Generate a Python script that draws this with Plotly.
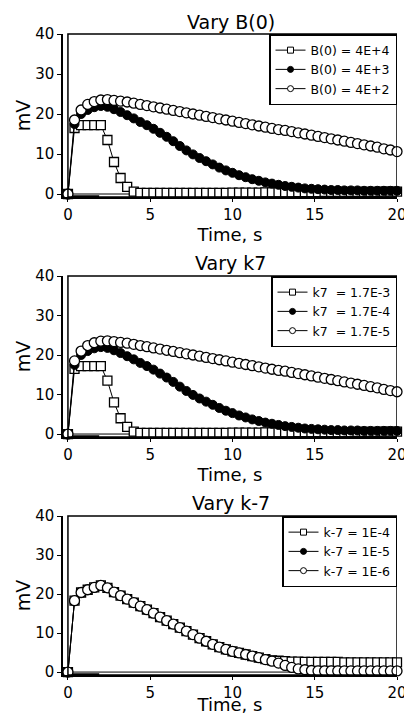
import plotly.graph_objects as go

W, H = 404, 715

# ---------------- data ----------------
time_s = [0, 0.4, 0.8, 1.2, 1.6, 2.0, 2.4, 2.8, 3.2, 3.6, 4.0, 4.4, 4.8, 5.2, 5.6, 6.0,
          6.4, 6.8, 7.2, 7.6, 8.0, 8.4, 8.8, 9.2, 9.6, 10.0, 10.4, 10.8, 11.2, 11.6, 12.0,
          12.4, 12.8, 13.2, 13.6, 14.0, 14.4, 14.8, 15.2, 15.6, 16.0, 16.4, 16.8, 17.2,
          17.6, 18.0, 18.4, 18.8, 19.2, 19.6, 20.0]

# Panel 1: Vary B(0)
b0_4e4 = [0, 16.5, 17.2, 17.2, 17.2, 17.2, 13.5, 8.0, 4.0, 1.8, 0.6, 0.3, 0.3, 0.3, 0.3, 0.3,
          0.3, 0.3, 0.3, 0.3, 0.3, 0.3, 0.3, 0.3, 0.3, 0.35, 0.35, 0.35, 0.35, 0.35, 0.4,
          0.4, 0.4, 0.4, 0.4, 0.45, 0.45, 0.45, 0.45, 0.5, 0.5, 0.5, 0.5, 0.5, 0.55,
          0.55, 0.55, 0.55, 0.6, 0.6, 0.6]
b0_4e3 = [0, 17.5, 20.0, 21.0, 21.7, 22.0, 21.8, 21.2, 20.5, 19.7, 18.9, 18.0, 17.2, 16.3, 15.3, 14.3,
          13.2, 12.0, 10.9, 9.9, 9.0, 8.2, 7.4, 6.6, 5.9, 5.3, 4.7, 4.2, 3.7, 3.3, 2.9,
          2.6, 2.3, 2.0, 1.8, 1.6, 1.4, 1.3, 1.2, 1.1, 1.0, 1.0, 0.9, 0.9,
          0.9, 0.8, 0.8, 0.8, 0.8, 0.8, 0.8]
b0_4e2 = [0, 18.5, 21.0, 22.4, 23.1, 23.5, 23.6, 23.4, 23.2, 23.0, 22.7, 22.4, 22.1, 21.8, 21.5, 21.2,
          20.9, 20.6, 20.3, 20.0, 19.7, 19.4, 19.1, 18.8, 18.5, 18.2, 17.9, 17.6, 17.3, 17.0, 16.7,
          16.4, 16.1, 15.9, 15.6, 15.3, 15.0, 14.7, 14.4, 14.1, 13.8, 13.5, 13.2, 12.9,
          12.6, 12.3, 12.0, 11.7, 11.3, 11.0, 10.6]

# Panel 2: Vary k7
k7_17em3 = [0, 16.5, 17.2, 17.2, 17.2, 17.2, 13.5, 8.0, 4.0, 1.8, 0.6, 0.3, 0.3, 0.3, 0.3, 0.3,
            0.3, 0.3, 0.3, 0.3, 0.3, 0.3, 0.3, 0.3, 0.3, 0.35, 0.35, 0.35, 0.35, 0.35, 0.4,
            0.4, 0.4, 0.4, 0.4, 0.45, 0.45, 0.45, 0.45, 0.5, 0.5, 0.5, 0.5, 0.5, 0.55,
            0.55, 0.55, 0.55, 0.6, 0.6, 0.6]
k7_17em4 = [0, 17.5, 20.0, 21.0, 21.7, 22.0, 21.8, 21.2, 20.5, 19.7, 18.9, 18.0, 17.2, 16.3, 15.3, 14.3,
            13.2, 12.0, 10.9, 9.9, 9.0, 8.2, 7.4, 6.6, 5.9, 5.3, 4.7, 4.2, 3.7, 3.3, 2.9,
            2.6, 2.3, 2.0, 1.8, 1.6, 1.4, 1.3, 1.2, 1.1, 1.0, 1.0, 0.9, 0.9,
            0.9, 0.8, 0.8, 0.8, 0.8, 0.8, 0.8]
k7_17em5 = [0, 18.5, 21.0, 22.4, 23.1, 23.5, 23.6, 23.4, 23.2, 23.0, 22.7, 22.4, 22.1, 21.8, 21.5, 21.2,
            20.9, 20.6, 20.3, 20.0, 19.7, 19.4, 19.1, 18.8, 18.5, 18.2, 17.9, 17.6, 17.3, 17.0, 16.7,
            16.4, 16.1, 15.9, 15.6, 15.3, 15.0, 14.7, 14.4, 14.1, 13.8, 13.5, 13.2, 12.9,
            12.6, 12.3, 12.0, 11.7, 11.3, 11.0, 10.7]

# Panel 3: Vary k-7
km7_1em4 = [0, 18.3, 20.4, 21.1, 21.7, 22.2, 21.6, 20.5, 19.6, 18.7, 17.8, 16.9, 16.0, 15.1, 14.1, 13.2,
            12.3, 11.4, 10.5, 9.6, 8.7, 7.9, 7.1, 6.4, 5.8, 5.3, 4.9, 4.5, 4.1, 3.7, 3.3,
            3.0, 2.9, 2.8, 2.7, 2.7, 2.6, 2.6, 2.6, 2.6, 2.6, 2.6, 2.5, 2.5,
            2.5, 2.5, 2.5, 2.5, 2.5, 2.5, 2.5]
km7_1em5 = [0, 18.3, 20.4, 21.1, 21.7, 22.2, 21.6, 20.5, 19.6, 18.7, 17.8, 16.9, 16.0, 15.1, 14.1, 13.2,
            12.3, 11.4, 10.5, 9.6, 8.7, 7.9, 7.1, 6.4, 5.8, 5.3, 4.9, 4.5, 4.1, 3.7, 3.2,
            2.8, 2.3, 1.7, 1.2, 0.8, 0.6, 0.4, 0.3, 0.3, 0.3, 0.3, 0.3, 0.3,
            0.3, 0.3, 0.3, 0.3, 0.3, 0.3, 0.3]
km7_1em6 = [0, 18.3, 20.4, 21.1, 21.7, 22.2, 21.6, 20.5, 19.6, 18.7, 17.8, 16.9, 16.0, 15.1, 14.1, 13.2,
            12.3, 11.4, 10.5, 9.6, 8.7, 7.9, 7.1, 6.4, 5.8, 5.3, 4.9, 4.5, 4.1, 3.7, 3.2,
            2.8, 2.3, 1.7, 1.2, 0.8, 0.6, 0.4, 0.3, 0.3, 0.3, 0.3, 0.3, 0.3,
            0.3, 0.3, 0.3, 0.3, 0.3, 0.3, 0.3]

baseline_x = [0, 20]
baseline_y = [0, 0]
stim_x = [-0.3, 1.9]
stim_y = [-0.75, -0.75]

titles = ["Vary B(0)", "Vary k7", "Vary k-7"]
names1 = ["B(0) = 4E+4", "B(0) = 4E+3", "B(0) = 4E+2"]
names2 = ["k7\u00a0 = 1.7E-3", "k7\u00a0 = 1.7E-4", "k7\u00a0 = 1.7E-5"]
names3 = ["k-7 = 1E-4", "k-7 = 1E-5", "k-7 = 1E-6"]
x_ticks = [0, 5, 10, 15, 20]
y_ticks = [0, 10, 20, 30, 40]

panels = [
    (names1, [b0_4e4, b0_4e3, b0_4e2]),
    (names2, [k7_17em3, k7_17em4, k7_17em5]),
    (names3, [km7_1em4, km7_1em5, km7_1em6]),
]

# ---------------- layout geometry (pixels) ----------------
FONT = "DejaVu Sans"
X_LEFT, X_RIGHT = 63, 397
panel_px = [(34, 197), (276, 437), (516, 675)]
title_py = [22, 263, 503]


def yp(px):
    return 1 - px / H


def xp(px):
    return px / W


fig = go.Figure()

for i, (names, series) in enumerate(panels):
    sfx = "" if i == 0 else str(i + 1)
    xa, ya = "x" + sfx, "y" + sfx
    leg = "legend" + sfx
    styles = [
        dict(symbol="square", size=9, color="white", line=dict(color="black", width=1.3)),
        dict(symbol="circle", size=9, color="black", line=dict(color="black", width=1)),
        dict(symbol="circle", size=10, color="white", line=dict(color="black", width=1.3)),
    ]
    leg_styles = [
        dict(symbol="square", size=6, color="white", line=dict(color="black", width=1)),
        dict(symbol="circle", size=6, color="black", line=dict(color="black", width=1)),
        dict(symbol="circle", size=6, color="white", line=dict(color="black", width=1)),
    ]
    fig.add_trace(go.Scatter(x=baseline_x, y=baseline_y, mode="lines",
                             line=dict(color="black", width=1), showlegend=False,
                             xaxis=xa, yaxis=ya, hoverinfo="skip"))
    fig.add_trace(go.Scatter(x=stim_x, y=stim_y, mode="lines",
                             line=dict(color="black", width=3.5), showlegend=False,
                             xaxis=xa, yaxis=ya, cliponaxis=False, hoverinfo="skip"))
    for name, vals, mk, lmk in zip(names, series, styles, leg_styles):
        fig.add_trace(go.Scatter(x=time_s, y=vals, mode="lines+markers", name=name,
                                 line=dict(color="black", width=1), marker=mk,
                                 xaxis=xa, yaxis=ya, showlegend=False, cliponaxis=False))
        # legend-only entry with the small symbol used in the original key
        fig.add_trace(go.Scatter(x=[None], y=[None], mode="lines+markers", name=name,
                                 line=dict(color="black", width=1), marker=lmk,
                                 xaxis=xa, yaxis=ya, legend=leg, showlegend=True))

    top, bot = panel_px[i]
    axis_common = dict(showline=True, linecolor="black", linewidth=1.5, showgrid=False,
                       zeroline=False, ticks="outside", tickcolor="black",
                       ticklabeloverflow="allow", automargin=False,
                       tickfont=dict(family=FONT, size=15, color="black"))
    fig.layout["xaxis" + sfx] = dict(
        axis_common, domain=[xp(X_LEFT), xp(X_RIGHT)], range=[-0.3, 20],
        tickvals=x_ticks, ticklen=3, anchor=ya,
        title=dict(text="Time, s", font=dict(family=FONT, size=18, color="black"), standoff=2))
    fig.layout["yaxis" + sfx] = dict(
        axis_common, domain=[yp(bot), yp(top)], range=[-0.75, 40],
        tickvals=y_ticks, ticklen=4, anchor=xa,
        title=dict(text="mV", font=dict(family=FONT, size=19, color="black"), standoff=0))
    fig.layout[leg] = dict(
        x=xp(X_RIGHT), xanchor="right", y=yp(top), yanchor="top",
        bgcolor="white", bordercolor="black", borderwidth=1.5,
        font=dict(family=FONT, size=12.5, color="black"),
        itemwidth=30, tracegroupgap=0)
    fig.add_shape(type="rect", xref=xa, x0=0, x1=20, yref=ya + " domain", y0=0, y1=1,
                  line=dict(color="black", width=1.5))
    fig.add_annotation(text=titles[i], xref="paper", yref="paper",
                       x=xp(231), y=yp(title_py[i]), xanchor="center", yanchor="middle",
                       showarrow=False, font=dict(family=FONT, size=19, color="black"))

fig.update_layout(width=W, height=H, margin=dict(l=0, r=0, t=0, b=0),
                  paper_bgcolor="white", plot_bgcolor="white", showlegend=True)

fig.write_html("out.html")
